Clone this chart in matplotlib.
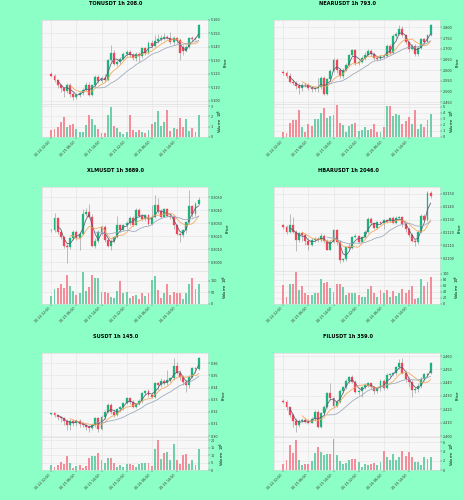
import numpy as np
import pandas as pd
import matplotlib
matplotlib.use('Agg')
import matplotlib.pyplot as plt
from matplotlib.ticker import MultipleLocator, FormatStrFormatter, FixedLocator

# ---------------- data ----------------
tick_positions = [0, 8, 16, 24, 32, 40]
tick_labels = ['10-14 22:00', '10-15 06:00', '10-15 14:00', '10-15 22:00', '10-16 06:00', '10-16 14:00']
mav_periods = [3, 7, 15]

TON_open = [5.1195, 5.1185, 5.1150, 5.1113, 5.1095, 5.1075, 5.1120, 5.1050, 5.1030, 5.1045, 5.1060, 5.1080,
            5.1120, 5.1045, 5.1113, 5.1175, 5.1145, 5.1170, 5.1155, 5.1300, 5.1358, 5.1275, 5.1290, 5.1310,
            5.1345, 5.1360, 5.1340, 5.1320, 5.1350, 5.1330, 5.1388, 5.1355, 5.1430, 5.1405, 5.1445, 5.1455,
            5.1465, 5.1470, 5.1465, 5.1438, 5.1463, 5.1450, 5.1400, 5.1370, 5.1400, 5.1465, 5.1455, 5.1468]
TON_close = [5.1185, 5.1150, 5.1113, 5.1095, 5.1075, 5.1120, 5.1050, 5.1030, 5.1045, 5.1060, 5.1080, 5.1120,
             5.1045, 5.1113, 5.1175, 5.1145, 5.1170, 5.1155, 5.1300, 5.1358, 5.1275, 5.1290, 5.1310, 5.1345,
             5.1360, 5.1340, 5.1320, 5.1350, 5.1330, 5.1388, 5.1355, 5.1430, 5.1405, 5.1445, 5.1455, 5.1465,
             5.1470, 5.1465, 5.1438, 5.1463, 5.1450, 5.1355, 5.1370, 5.1400, 5.1465, 5.1455, 5.1468, 5.1563]
TON_high = [5.1213, 5.1200, 5.1163, 5.1125, 5.1105, 5.1130, 5.1130, 5.1063, 5.1055, 5.1075, 5.1095, 5.1138,
            5.1138, 5.1125, 5.1188, 5.1188, 5.1185, 5.1195, 5.1313, 5.1413, 5.1375, 5.1305, 5.1325, 5.1363,
            5.1375, 5.1375, 5.1355, 5.1363, 5.1363, 5.1400, 5.1400, 5.1445, 5.1450, 5.1488, 5.1495, 5.1490,
            5.1500, 5.1485, 5.1513, 5.1480, 5.1475, 5.1463, 5.1413, 5.1413, 5.1475, 5.1480, 5.1475, 5.1570]
TON_low = [5.1175, 5.1138, 5.1095, 5.1063, 5.1025, 5.1055, 5.1025, 5.1005, 5.1013, 5.1030, 5.1045, 5.1070,
           5.1038, 5.1035, 5.1105, 5.1130, 5.1130, 5.1138, 5.1145, 5.1288, 5.1263, 5.1260, 5.1275, 5.1300,
           5.1335, 5.1325, 5.1305, 5.1295, 5.1288, 5.1320, 5.1338, 5.1345, 5.1388, 5.1400, 5.1430, 5.1445,
           5.1450, 5.1455, 5.1425, 5.1413, 5.1425, 5.1305, 5.1338, 5.1363, 5.1395, 5.1445, 5.1450, 5.1463]
TON_vol = [0.7, 0.8, 1.0, 1.5, 1.9, 1.0, 1.2, 1.3, 0.8, 0.5, 0.5, 1.2,
           2.1, 1.7, 1.2, 0.8, 0.4, 0.4, 2.1, 2.9, 1.1, 0.9, 0.5, 0.3,
           0.5, 2.1, 0.7, 0.5, 0.7, 0.5, 0.4, 0.7, 1.3, 1.5, 2.5, 1.1,
           1.5, 2.6, 0.6, 0.9, 0.8, 1.8, 1.0, 1.7, 0.6, 0.9, 0.5, 2.1]

NEAR_open = [2.5915, 2.5855, 2.5720, 2.5465, 2.5420, 2.5270, 2.5165, 2.5315, 2.5300, 2.5165, 2.5120, 2.5165,
             2.5225, 2.5645, 2.4895, 2.5570, 2.5975, 2.6470, 2.6020, 2.5720, 2.6020, 2.6245, 2.6725, 2.6920,
             2.6320, 2.6395, 2.6545, 2.6725, 2.6875, 2.6770, 2.6575, 2.6515, 2.6665, 2.6650, 2.7145, 2.6815,
             2.7595, 2.7670, 2.7925, 2.7625, 2.7325, 2.6965, 2.7145, 2.6770, 2.7025, 2.7445, 2.7325, 2.7625]
NEAR_close = [2.5855, 2.5720, 2.5465, 2.5420, 2.5270, 2.5165, 2.5315, 2.5300, 2.5165, 2.5120, 2.5165, 2.5225,
              2.5645, 2.4895, 2.5570, 2.5975, 2.6470, 2.6020, 2.5720, 2.6020, 2.6245, 2.6725, 2.6920, 2.6320,
              2.6395, 2.6545, 2.6725, 2.6875, 2.6770, 2.6575, 2.6515, 2.6665, 2.6650, 2.7145, 2.6815, 2.7595,
              2.7670, 2.7925, 2.7625, 2.7325, 2.6965, 2.7145, 2.6770, 2.7025, 2.7445, 2.7325, 2.7625, 2.8120]
NEAR_high = [2.6020, 2.5975, 2.5870, 2.5570, 2.5495, 2.5375, 2.5375, 2.5375, 2.5420, 2.5270, 2.5225, 2.5645,
             2.5720, 2.5720, 2.5645, 2.6065, 2.6545, 2.6545, 2.6095, 2.6095, 2.6320, 2.6770, 2.6995, 2.6995,
             2.6470, 2.6665, 2.6845, 2.6965, 2.6965, 2.6845, 2.6665, 2.6725, 2.6755, 2.7220, 2.7220, 2.7670,
             2.7775, 2.8120, 2.8045, 2.7670, 2.7370, 2.7220, 2.7220, 2.7145, 2.7520, 2.7520, 2.7670, 2.8165]
NEAR_low = [2.5795, 2.5645, 2.5375, 2.5315, 2.5120, 2.4895, 2.5045, 2.5225, 2.5075, 2.4970, 2.5015, 2.4970,
            2.5120, 2.4820, 2.4820, 2.5495, 2.5915, 2.5870, 2.5645, 2.5645, 2.5945, 2.6170, 2.6665, 2.6245,
            2.6245, 2.6320, 2.6470, 2.6695, 2.6665, 2.6470, 2.6425, 2.6455, 2.6575, 2.6620, 2.6755, 2.6770,
            2.7475, 2.7625, 2.7565, 2.7220, 2.6845, 2.6920, 2.6665, 2.6665, 2.6995, 2.7265, 2.7295, 2.7595]
NEAR_vol = [0.9, 0.7, 2.4, 2.9, 2.9, 4.5, 1.7, 0.9, 2.2, 1.8, 3.0, 3.0,
            4.0, 4.9, 3.1, 3.5, 3.7, 5.3, 2.4, 2.0, 0.9, 1.8, 2.2, 2.4,
            1.0, 1.1, 1.7, 1.1, 1.4, 2.1, 0.9, 0.9, 1.7, 5.1, 5.1, 3.5,
            3.9, 3.7, 2.2, 2.7, 3.3, 2.1, 4.5, 1.4, 2.1, 1.7, 2.9, 3.9]

XLM_open = [0.30245, 0.30250, 0.30340, 0.30233, 0.30190, 0.30125, 0.30115, 0.30183, 0.30233, 0.30183, 0.30215, 0.30370,
            0.30390, 0.30350, 0.30125, 0.30165, 0.30233, 0.30270, 0.30170, 0.30125, 0.30165, 0.30190, 0.30283, 0.30250,
            0.30283, 0.30300, 0.30340, 0.30290, 0.30400, 0.30358, 0.30333, 0.30365, 0.30295, 0.30350, 0.30440, 0.30395,
            0.30350, 0.30408, 0.30358, 0.30345, 0.30283, 0.30220, 0.30208, 0.30245, 0.30308, 0.30433, 0.30370, 0.30450]
XLM_close = [0.30250, 0.30340, 0.30233, 0.30190, 0.30125, 0.30115, 0.30183, 0.30233, 0.30183, 0.30215, 0.30370, 0.30390,
             0.30350, 0.30125, 0.30165, 0.30233, 0.30270, 0.30170, 0.30125, 0.30165, 0.30190, 0.30283, 0.30250, 0.30283,
             0.30300, 0.30340, 0.30290, 0.30400, 0.30358, 0.30333, 0.30365, 0.30295, 0.30350, 0.30440, 0.30395, 0.30350,
             0.30408, 0.30358, 0.30345, 0.30283, 0.30220, 0.30208, 0.30245, 0.30308, 0.30433, 0.30370, 0.30450, 0.30483]
XLM_high = [0.30258, 0.30383, 0.30345, 0.30245, 0.30200, 0.30145, 0.30195, 0.30245, 0.30245, 0.30233, 0.30408, 0.30420,
            0.30450, 0.30370, 0.30183, 0.30245, 0.30283, 0.30283, 0.30183, 0.30175, 0.30200, 0.30358, 0.30295, 0.30295,
            0.30315, 0.30358, 0.30358, 0.30415, 0.30420, 0.30370, 0.30375, 0.30375, 0.30445, 0.30520, 0.30495, 0.30408,
            0.30420, 0.30420, 0.30375, 0.30358, 0.30295, 0.30233, 0.30258, 0.30320, 0.30558, 0.30445, 0.30465, 0.30500]
XLM_low = [0.30233, 0.30233, 0.30220, 0.30175, 0.30108, 0.29995, 0.30100, 0.30170, 0.30170, 0.30090, 0.30208, 0.30358,
           0.30340, 0.30115, 0.30108, 0.30145, 0.30208, 0.30158, 0.30115, 0.30090, 0.30145, 0.30183, 0.30233, 0.30245,
           0.30258, 0.30290, 0.30275, 0.30283, 0.30345, 0.30320, 0.30320, 0.30290, 0.30290, 0.30340, 0.30383, 0.30340,
           0.30345, 0.30345, 0.30333, 0.30258, 0.30208, 0.30158, 0.30195, 0.30225, 0.30295, 0.30350, 0.30358, 0.30445]
XLM_vol = [34, 66, 69, 85, 69, 125, 77, 56, 37, 48, 141, 56,
           72, 125, 112, 114, 50, 50, 45, 29, 24, 56, 98, 45,
           53, 24, 34, 40, 21, 45, 34, 48, 104, 120, 61, 24,
           45, 85, 37, 53, 45, 45, 21, 48, 88, 114, 64, 88]

HBAR_open = [0.21255, 0.21243, 0.21205, 0.21255, 0.21205, 0.21143, 0.21193, 0.21180, 0.21138, 0.21105, 0.21143, 0.21148,
             0.21143, 0.21173, 0.21138, 0.21068, 0.21130, 0.21218, 0.21130, 0.20988, 0.20993, 0.21088, 0.21080, 0.21163,
             0.21173, 0.21130, 0.21163, 0.21205, 0.21305, 0.21273, 0.21238, 0.21280, 0.21273, 0.21298, 0.21288, 0.21313,
             0.21273, 0.21313, 0.21318, 0.21268, 0.21230, 0.21180, 0.21138, 0.21123, 0.21205, 0.21330, 0.21298, 0.21505]
HBAR_close = [0.21243, 0.21205, 0.21255, 0.21205, 0.21143, 0.21193, 0.21180, 0.21138, 0.21105, 0.21143, 0.21148, 0.21143,
              0.21173, 0.21138, 0.21068, 0.21130, 0.21218, 0.21130, 0.20988, 0.20993, 0.21088, 0.21080, 0.21163, 0.21173,
              0.21130, 0.21163, 0.21205, 0.21305, 0.21273, 0.21238, 0.21280, 0.21273, 0.21298, 0.21288, 0.21313, 0.21273,
              0.21313, 0.21318, 0.21268, 0.21230, 0.21180, 0.21138, 0.21123, 0.21205, 0.21330, 0.21298, 0.21505, 0.21480]
HBAR_high = [0.21268, 0.21255, 0.21343, 0.21318, 0.21218, 0.21205, 0.21205, 0.21193, 0.21155, 0.21155, 0.21163, 0.21163,
             0.21193, 0.21188, 0.21148, 0.21143, 0.21230, 0.21230, 0.21143, 0.21005, 0.21098, 0.21118, 0.21173, 0.21188,
             0.21180, 0.21173, 0.21218, 0.21318, 0.21318, 0.21280, 0.21288, 0.21293, 0.21305, 0.21305, 0.21323, 0.21330,
             0.21330, 0.21330, 0.21330, 0.21280, 0.21243, 0.21193, 0.21148, 0.21218, 0.21343, 0.21343, 0.21518, 0.21518]
HBAR_low = [0.21230, 0.21188, 0.21198, 0.21193, 0.21055, 0.21123, 0.21138, 0.21105, 0.21063, 0.21093, 0.21130, 0.21128,
            0.21130, 0.21118, 0.21063, 0.21063, 0.21118, 0.21105, 0.20968, 0.20973, 0.20980, 0.21068, 0.21073, 0.21155,
            0.21118, 0.21123, 0.21155, 0.21193, 0.21255, 0.21230, 0.21230, 0.21263, 0.21230, 0.21273, 0.21280, 0.21263,
            0.21268, 0.21298, 0.21243, 0.21205, 0.21163, 0.21123, 0.21098, 0.21113, 0.21193, 0.21288, 0.21293, 0.21468]
HBAR_vol = [61, 22, 67, 64, 106, 46, 58, 34, 28, 28, 34, 34,
            82, 70, 72, 52, 40, 64, 66, 54, 30, 37, 37, 34,
            30, 22, 22, 49, 58, 34, 22, 46, 36, 46, 22, 42,
            25, 34, 48, 35, 46, 58, 16, 18, 82, 58, 73, 90]

S_open = [0.31815, 0.31870, 0.31733, 0.31540, 0.31458, 0.31265, 0.30908, 0.31265, 0.31045, 0.31265, 0.30990, 0.30908,
          0.30770, 0.30633, 0.30908, 0.31458, 0.30550, 0.31540, 0.32008, 0.32558, 0.32008, 0.31733, 0.32200, 0.32365,
          0.32750, 0.33108, 0.32833, 0.32420, 0.32640, 0.32915, 0.33520, 0.33740, 0.33383, 0.33245, 0.34345, 0.34208,
          0.34565, 0.34345, 0.34620, 0.34758, 0.35775, 0.35225, 0.34895, 0.34483, 0.34208, 0.34895, 0.35583, 0.35500]
S_close = [0.31870, 0.31733, 0.31540, 0.31458, 0.31265, 0.30908, 0.31265, 0.31045, 0.31265, 0.30990, 0.30908, 0.30770,
           0.30633, 0.30908, 0.31458, 0.30550, 0.31540, 0.32008, 0.32558, 0.32008, 0.31733, 0.32200, 0.32365, 0.32750,
           0.33108, 0.32833, 0.32420, 0.32640, 0.32915, 0.33520, 0.33740, 0.33383, 0.33245, 0.34345, 0.34208, 0.34565,
           0.34345, 0.34620, 0.34758, 0.35775, 0.35225, 0.34895, 0.34483, 0.34208, 0.34895, 0.35583, 0.35500, 0.36463]
S_high = [0.31925, 0.32008, 0.31733, 0.31650, 0.31540, 0.31375, 0.31375, 0.31375, 0.31375, 0.31375, 0.31045, 0.30990,
          0.30908, 0.31045, 0.31595, 0.31540, 0.31733, 0.32145, 0.32750, 0.32695, 0.32200, 0.32283, 0.32475, 0.32833,
          0.33245, 0.33245, 0.32970, 0.32750, 0.33025, 0.33658, 0.33795, 0.33850, 0.33520, 0.34483, 0.34483, 0.34758,
          0.34675, 0.35445, 0.34895, 0.36408, 0.36133, 0.35445, 0.35033, 0.34620, 0.35033, 0.35720, 0.35665, 0.36545]
S_low = [0.31733, 0.31540, 0.31320, 0.31183, 0.30908, 0.30495, 0.30495, 0.30825, 0.30825, 0.30770, 0.30715, 0.30495,
         0.30358, 0.30495, 0.30770, 0.30358, 0.30495, 0.31375, 0.31870, 0.31815, 0.31540, 0.31650, 0.32008, 0.32145,
         0.32640, 0.32640, 0.32283, 0.32283, 0.32530, 0.32750, 0.33383, 0.33245, 0.33108, 0.33108, 0.33795, 0.34070,
         0.34208, 0.34208, 0.34483, 0.34620, 0.35115, 0.34620, 0.34208, 0.33658, 0.33933, 0.34758, 0.35225, 0.35445]
S_vol = [3.3, 2.2, 3.3, 5.6, 4.0, 9.3, 4.9, 1.8, 2.7, 3.3, 1.8, 2.7,
         8.0, 9.3, 9.3, 11.6, 7.1, 4.9, 8.4, 8.4, 4.9, 2.2, 3.3, 2.2,
         4.4, 4.4, 3.3, 2.2, 4.4, 4.9, 4.9, 4.9, 2.7, 14.0, 20.4, 7.8,
         11.6, 12.2, 7.1, 17.8, 7.1, 4.4, 10.0, 11.1, 4.4, 7.1, 3.8, 14.0]

FIL_open = [2.4265, 2.4258, 2.4215, 2.4158, 2.4115, 2.4083, 2.4115, 2.4120, 2.4108, 2.4100, 2.4125, 2.4183,
            2.4070, 2.4170, 2.4220, 2.4320, 2.4283, 2.4225, 2.4258, 2.4340, 2.4365, 2.4415, 2.4445, 2.4408,
            2.4333, 2.4340, 2.4365, 2.4383, 2.4395, 2.4365, 2.4340, 2.4358, 2.4415, 2.4358, 2.4458, 2.4465,
            2.4470, 2.4515, 2.4550, 2.4475, 2.4425, 2.4408, 2.4345, 2.4350, 2.4375, 2.4425, 2.4465, 2.4470]
FIL_close = [2.4258, 2.4215, 2.4158, 2.4115, 2.4083, 2.4115, 2.4120, 2.4108, 2.4100, 2.4125, 2.4183, 2.4070,
             2.4170, 2.4220, 2.4320, 2.4283, 2.4225, 2.4258, 2.4340, 2.4365, 2.4415, 2.4445, 2.4408, 2.4333,
             2.4340, 2.4365, 2.4383, 2.4395, 2.4365, 2.4340, 2.4358, 2.4415, 2.4358, 2.4458, 2.4465, 2.4470,
             2.4515, 2.4550, 2.4475, 2.4425, 2.4408, 2.4345, 2.4350, 2.4375, 2.4425, 2.4465, 2.4458, 2.4550]
FIL_high = [2.4275, 2.4270, 2.4225, 2.4170, 2.4133, 2.4125, 2.4133, 2.4133, 2.4125, 2.4145, 2.4195, 2.4195,
            2.4183, 2.4233, 2.4333, 2.4395, 2.4295, 2.4270, 2.4350, 2.4375, 2.4425, 2.4450, 2.4458, 2.4420,
            2.4350, 2.4375, 2.4400, 2.4408, 2.4400, 2.4375, 2.4370, 2.4425, 2.4425, 2.4470, 2.4475, 2.4483,
            2.4525, 2.4575, 2.4583, 2.4495, 2.4445, 2.4420, 2.4365, 2.4395, 2.4440, 2.4475, 2.4475, 2.4558]
FIL_low = [2.4245, 2.4195, 2.4140, 2.4070, 2.4033, 2.4070, 2.4105, 2.4095, 2.4090, 2.4095, 2.4115, 2.4058,
           2.4058, 2.4158, 2.4208, 2.4270, 2.4208, 2.4215, 2.4250, 2.4325, 2.4350, 2.4400, 2.4395, 2.4320,
           2.4308, 2.4295, 2.4350, 2.4365, 2.4350, 2.4315, 2.4325, 2.4340, 2.4345, 2.4350, 2.4445, 2.4450,
           2.4458, 2.4500, 2.4465, 2.4408, 2.4370, 2.4295, 2.4320, 2.4333, 2.4358, 2.4415, 2.4445, 2.4465]
FIL_vol = [1.3, 2.1, 5.3, 3.7, 6.4, 2.1, 1.1, 1.4, 1.3, 2.0, 3.6, 5.0,
           3.9, 3.2, 3.4, 3.4, 6.6, 3.2, 2.0, 1.3, 1.6, 2.1, 2.5, 2.3,
           1.8, 0.7, 1.4, 1.1, 1.3, 1.6, 1.1, 1.8, 4.1, 2.9, 2.1, 3.4,
           2.1, 2.9, 4.1, 3.0, 3.9, 2.9, 1.8, 1.8, 1.1, 2.9, 2.5, 2.9]

titles = ['TONUSDT 1h 208.0', 'NEARUSDT 1h 793.0', 'XLMUSDT 1h 3689.0',
          'HBARUSDT 1h 2046.0', 'SUSDT 1h 145.0', 'FILUSDT 1h 359.0']

# ---------------- style ----------------
BG = '#8cffc6'
FACE = '#f7f7f7'
GRID = '#e2e2e2'
UP, DOWN = '#1db47c', '#f0465a'
VUP, VDOWN = '#6fcfa9', '#f38d99'
WICK = '#9a9a9a'
MAV_COLORS = ['#5a5a72', '#f3a552', '#9aa6b8']

panels = [
    dict(o=TON_open, h=TON_high, l=TON_low, c=TON_close, v=TON_vol,
         ylim=(5.0975, 5.160), ystep=0.01, fmt='%.3f', vtop=3.2, vstep=1),
    dict(o=NEAR_open, h=NEAR_high, l=NEAR_low, c=NEAR_close, v=NEAR_vol,
         ylim=(2.4415, 2.8345), ystep=0.05, fmt='%.3f', vtop=5.5, vstep=1),
    dict(o=XLM_open, h=XLM_high, l=XLM_low, c=XLM_close, v=XLM_vol,
         ylim=(0.29933, 0.30583), ystep=0.001, fmt='%.4f', vtop=145, vstep=50),
    dict(o=HBAR_open, h=HBAR_high, l=HBAR_low, c=HBAR_close, v=HBAR_vol,
         ylim=(0.20905, 0.21555), ystep=0.001, fmt='%.4f', vtop=110, vstep=20),
    dict(o=S_open, h=S_high, l=S_low, c=S_close, v=S_vol,
         ylim=(0.2989, 0.3682), ystep=0.01, fmt='%.2f', vtop=22, vstep=5),
    dict(o=FIL_open, h=FIL_high, l=FIL_low, c=FIL_close, v=FIL_vol,
         ylim=(2.399, 2.462), ystep=0.01, fmt='%.3f', vtop=7.0, vstep=2),
]

W_PX, H_PX = 464, 500
fig = plt.figure(figsize=(W_PX / 100, H_PX / 100), dpi=100, facecolor=BG)
ROW_H = H_PX / 3.0

def style_axis(ax):
    ax.set_facecolor(FACE)
    for s in ax.spines.values():
        s.set_color('#d8d8d8')
        s.set_linewidth(0.4)
    ax.yaxis.tick_right()
    ax.yaxis.set_label_position('right')
    ax.tick_params(axis='both', labelsize=2.4, length=1.2, width=0.3, pad=1, colors='#333333')
    ax.grid(True, color=GRID, lw=0.4)
    ax.set_axisbelow(True)

for i, (p, title) in enumerate(zip(panels, titles)):
    r, col = divmod(i, 2)
    top = 20 + r * ROW_H
    pb = 104 + r * ROW_H
    vb = 137 + r * ROW_H
    left = 42 + col * 232
    w = 166
    axp = fig.add_axes([left / W_PX, 1 - pb / H_PX, w / W_PX, (pb - top) / H_PX])
    axv = fig.add_axes([left / W_PX, 1 - vb / H_PX, w / W_PX, (vb - pb) / H_PX], sharex=axp)
    style_axis(axp)
    style_axis(axv)

    o = np.array(p['o']); c = np.array(p['c'])
    h = np.maximum.reduce([np.array(p['h']), o, c])
    l = np.minimum.reduce([np.array(p['l']), o, c])
    v = np.array(p['v'])
    x = np.arange(len(c))
    up = c >= o
    colors = np.where(up, UP, DOWN)
    vcolors = np.where(up, VUP, VDOWN)
    rng = p['ylim'][1] - p['ylim'][0]
    body = np.maximum(np.abs(c - o), rng * 0.004)

    axp.vlines(x, l, h, color=WICK, lw=0.45, zorder=2)
    axp.bar(x, body, bottom=np.minimum(o, c), width=0.62, color=colors,
            edgecolor=colors, linewidth=0.2, zorder=3)

    close = pd.Series(c)
    for per, mc in zip(mav_periods, MAV_COLORS):
        axp.plot(x, close.rolling(per).mean(), color=mc, lw=0.55, zorder=4)

    axv.bar(x, v, width=0.62, color=vcolors, zorder=3)

    axp.set_xlim(-3, len(c) + 2)
    axp.set_ylim(*p['ylim'])
    axp.yaxis.set_major_locator(MultipleLocator(p['ystep']))
    axp.yaxis.set_major_formatter(FormatStrFormatter(p['fmt']))
    axp.set_ylabel('Price', fontsize=2.8, labelpad=2)
    axv.set_ylim(0, p['vtop'])
    axv.yaxis.set_major_locator(MultipleLocator(p['vstep']))
    axv.set_ylabel('Volume  $10^{6}$', fontsize=2.6, labelpad=2)

    axv.xaxis.set_major_locator(FixedLocator(tick_positions))
    axv.set_xticklabels(tick_labels, rotation=45, ha='right', fontsize=2.4)
    plt.setp(axp.get_xticklabels(), visible=False)

    fig.text((col * 232 + 116) / W_PX, 1 - (3.6 + r * ROW_H) / H_PX, title,
             ha='center', va='center', fontsize=3.6, fontweight='bold')

fig.savefig('out.png', dpi=100, facecolor=BG)
